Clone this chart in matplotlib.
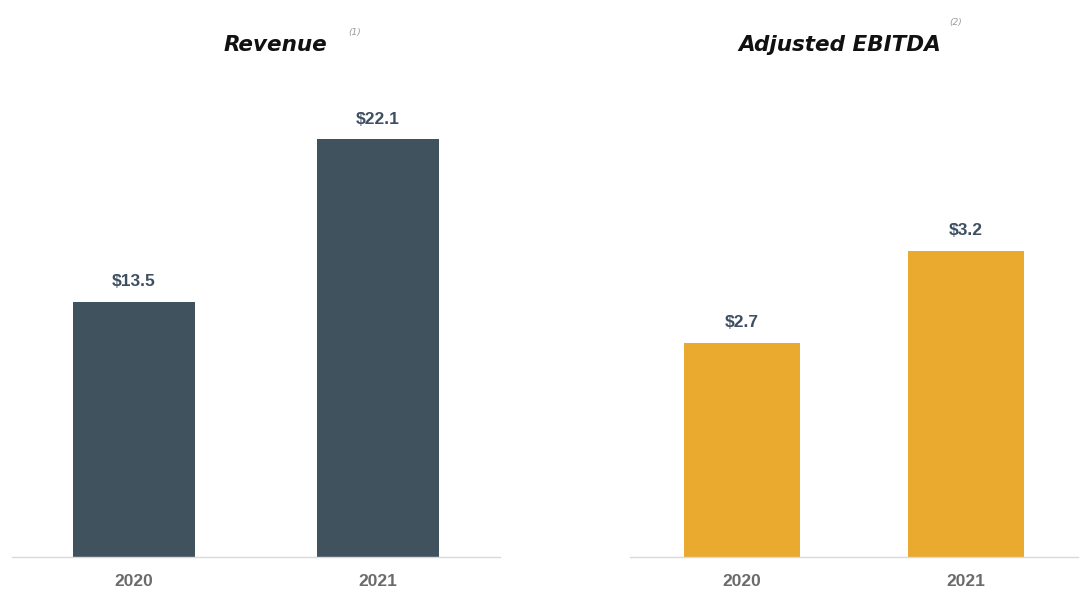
import matplotlib.pyplot as plt

years = ["2020", "2021"]
revenue = [13.5, 22.1]
ebitda = [2.7, 3.2]
revenue_labels = ["$13.5", "$22.1"]
ebitda_labels = ["$2.7", "$3.2"]

W, H = 1080, 608
fig = plt.figure(figsize=(W / 100, H / 100), dpi=100)
NUM_FONT = ["Liberation Sans", "DejaVu Sans"]

def px_axes(x0, x1, ytop, ybot):
    return fig.add_axes([x0 / W, 1 - ybot / H, (x1 - x0) / W, (ybot - ytop) / H])

def panel(ax, values, labels, color, width, ylim):
    xs = range(len(values))
    ax.bar(xs, values, width=width, color=color, zorder=2)
    ax.set_xlim(-0.5, 1.5)
    ax.set_ylim(*ylim)
    for s in ("top", "right", "left"):
        ax.spines[s].set_visible(False)
    ax.spines["bottom"].set_color("#d9d9d9")
    ax.spines["bottom"].set_linewidth(1.0)
    ax.set_yticks([])
    ax.set_xticks(list(xs))
    ax.set_xticklabels(years, fontsize=12.5, fontweight="bold", color="#6b6b6b",
                       family=NUM_FONT)
    ax.tick_params(axis="x", length=0, pad=12)
    for x, v, t in zip(xs, values, labels):
        ax.annotate(t, (x, v), xytext=(0, 9), textcoords="offset points",
                    ha="center", va="bottom", fontsize=12.5, fontweight="bold",
                    color="#3d4f60", family=NUM_FONT)

ax1 = px_axes(12, 500, 100, 557)
panel(ax1, revenue, revenue_labels, "#41525f", 0.5, (0, 24.18))

ax2 = px_axes(630, 1078, 100, 557)
panel(ax2, ebitda, ebitda_labels, "#eaa92f", 0.52, (1.537, 4.02))

fig.text(275 / W, 1 - 45 / H, "Revenue", ha="center", va="center",
         fontsize=15.5, fontweight="bold", fontstyle="italic", color="#111111")
fig.text(355 / W, 1 - 32 / H, "(1)", ha="center", va="center",
         fontsize=6.5, fontstyle="italic", color="#9a9a9a")
fig.text(840 / W, 1 - 45 / H, "Adjusted EBITDA", ha="center", va="center",
         fontsize=15.5, fontweight="bold", fontstyle="italic", color="#111111")
fig.text(956 / W, 1 - 23 / H, "(2)", ha="center", va="center",
         fontsize=6.5, fontstyle="italic", color="#9a9a9a")

fig.savefig("out.png", dpi=100, facecolor="white")
